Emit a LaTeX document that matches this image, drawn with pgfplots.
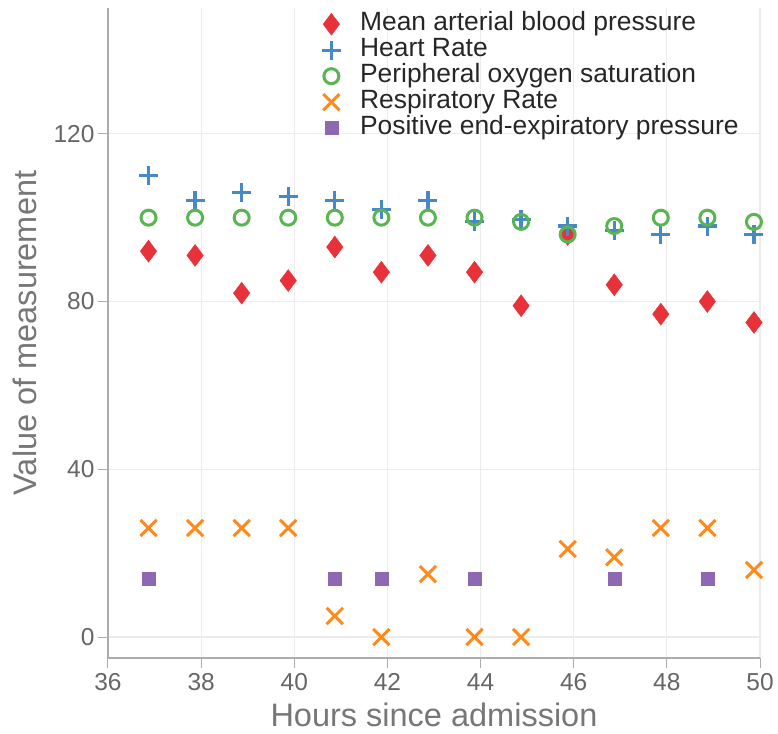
\documentclass[border=0pt]{standalone}
\usepackage{fontspec}
\setmainfont{Liberation Sans}
\usepackage{pgfplots}
\pgfplotsset{compat=1.18}

\definecolor{mapred}{HTML}{E8323A}
\definecolor{hrblue}{HTML}{4689C6}
\definecolor{spogreen}{HTML}{58B552}
\definecolor{rrorange}{HTML}{FF8A1C}
\definecolor{peeppurple}{HTML}{8E68B2}
\definecolor{labgray}{HTML}{777777}
\definecolor{tickgray}{HTML}{666666}

\pgfplotsset{
  dotleg/.style={only marks,
    legend image code/.code={\path (-12pt,0pt) (27pt,0pt); \draw[##1] plot coordinates {(0pt,0pt)};}}
}

\begin{document}
\begin{tikzpicture}
  \begin{axis}[
    scale only axis,
    width=652pt, height=650pt,
    xmin=36, xmax=50, ymin=-5, ymax=150,
    xtick={36,38,...,50}, ytick={0,40,80,120},
    axis lines*=left,
    axis line style={draw=gray!65, line width=1.2pt},
    tick align=outside, major tick length=10pt,
    tick style={draw=gray!65, line width=1pt},
    grid=major,
    major grid style={draw=gray!15, line width=1.2pt},
    clip=false,
    tick label style={font=\fontsize{24.5}{26}\selectfont, text=tickgray},
    xticklabel style={yshift=-2pt},
    /pgf/number format/assume math mode=true,
    xlabel={Hours since admission},
    ylabel={Value of measurement},
    label style={font=\fontsize{32.5}{34}\selectfont, text=labgray},
    xlabel shift=5pt,
    ylabel shift=10pt,
    legend cell align=left,
    legend style={draw=none, fill=none, at={(rel axis cs:0.3236,1)}, anchor=north west,
      yshift=-3pt, inner sep=0pt, row sep=0pt,
      font=\fontsize{26.4}{28}\selectfont, text=black!85,
      nodes={text height=18pt, text depth=5pt, inner sep=1.5pt}},
  ]

  \addplot[dotleg, mark=diamond*, mark size=11pt, color=mapred, mark options={fill=mapred, draw=mapred}]
  table[x=x,y=y] {
    x      y
    36.87  92
    37.87  91
    38.87  82
    39.87  85
    40.87  93
    41.87  87
    42.87  91
    43.87  87
    44.87  79
    45.87  96
    46.87  84
    47.87  77
    48.87  80
    49.87  75
  };
  \addlegendentry{Mean arterial blood pressure}

  \addplot[dotleg, mark=+, mark size=9.5pt, color=hrblue, mark options={line width=3.2pt}]
  table[x=x,y=y] {
    x      y
    36.87  110
    37.87  104
    38.87  106
    39.87  105
    40.87  104
    41.87  102
    42.87  104
    43.87  99
    44.87  99.5
    45.87  98
    46.87  97
    47.87  96
    48.87  98
    49.87  96
  };
  \addlegendentry{Heart Rate}

  \addplot[dotleg, mark=o, mark size=7.5pt, color=spogreen, mark options={line width=3pt}]
  table[x=x,y=y] {
    x      y
    36.87  100
    37.87  100
    38.87  100
    39.87  100
    40.87  100
    41.87  100
    42.87  100
    43.87  100
    44.87  99
    45.87  96
    46.87  98
    47.87  100
    48.87  100
    49.87  99
  };
  \addlegendentry{Peripheral oxygen saturation}

  \addplot[dotleg, mark=x, mark size=11.5pt, color=rrorange, mark options={line width=3pt}]
  table[x=x,y=y] {
    x      y
    36.87  26
    37.87  26
    38.87  26
    39.87  26
    40.87  5
    41.87  0
    42.87  15
    43.87  0
    44.87  0
    45.87  21
    46.87  19
    47.87  26
    48.87  26
    49.87  16
  };
  \addlegendentry{Respiratory Rate}

  \addplot[dotleg, mark=square*, mark size=6.5pt, color=peeppurple, mark options={fill=peeppurple, draw=peeppurple}]
  table[x=x,y=y] {
    x      y
    36.87  14
    40.87  14
    41.87  14
    43.87  14
    46.87  14
    48.87  14
  };
  \addlegendentry{Positive end-expiratory pressure}

  \path (rel axis cs:0,0) ++(-108pt,-75pt) coordinate (bbl);
  \path (rel axis cs:1,1) ++(18pt,8pt) coordinate (bbr);
  \end{axis}
  \useasboundingbox (bbl) rectangle (bbr);
\end{tikzpicture}
\end{document}
